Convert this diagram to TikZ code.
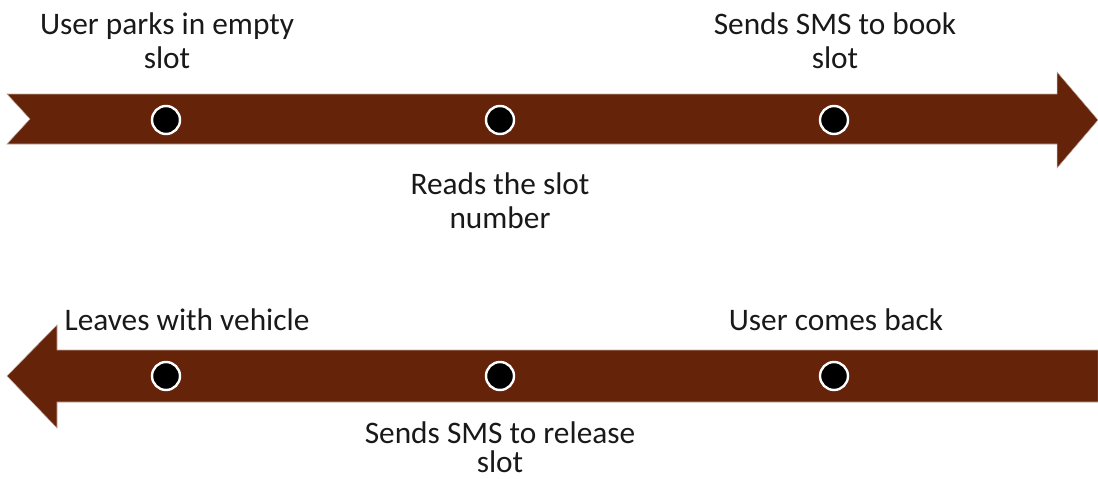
\documentclass[tikz,border=0pt]{standalone}
\usepackage{fontspec}
\setmainfont{Carlito}
\definecolor{band}{RGB}{101,35,10}
\begin{document}
\begin{tikzpicture}[x=0.75pt,y=-0.75pt,
  band/.style={fill=band,draw=band!40!white,line width=0.4pt},
  stop/.style={circle,fill=black,draw=white,line width=1.8pt,minimum size=21pt,inner sep=0pt},
  caption/.style={align=center,text=black!90,font=\fontsize{23.5}{25.5}\selectfont,inner sep=0pt}]
\useasboundingbox (0,0) rectangle (1098,478);
% forward timeline (left to right)
\path[band] (7,94) -- (1057,94) -- (1057,72) -- (1098,120) -- (1057,168) -- (1057,144)
  -- (7,144) -- (30,119) -- cycle;
% return timeline (right to left)
\path[band] (1098,350) -- (57,350) -- (57,325) -- (7,376) -- (57,428) -- (57,402)
  -- (1098,402) -- cycle;
% stops
\node[stop] (p1) at (166,120) {};
\node[stop] (p2) at (500,120) {};
\node[stop] (p3) at (834,120) {};
\node[stop] (q1) at (166,376) {};
\node[stop] (q2) at (500,376) {};
\node[stop] (q3) at (834,376) {};
% captions
\node[caption] (t1) at (167,41) {User parks in empty\\slot};
\node[caption] (t2) at (500,201) {Reads the slot\\number};
\node[caption] (t3) at (835,41) {Sends SMS to book\\slot};
\node[caption] (b1) at (187,320) {Leaves with vehicle};
\node[caption,font=\fontsize{23.5}{22}\selectfont] (b2) at (500,447) {Sends SMS to release\\slot};
\node[caption] (b3) at (836,320) {User comes back};
\end{tikzpicture}
\end{document}
